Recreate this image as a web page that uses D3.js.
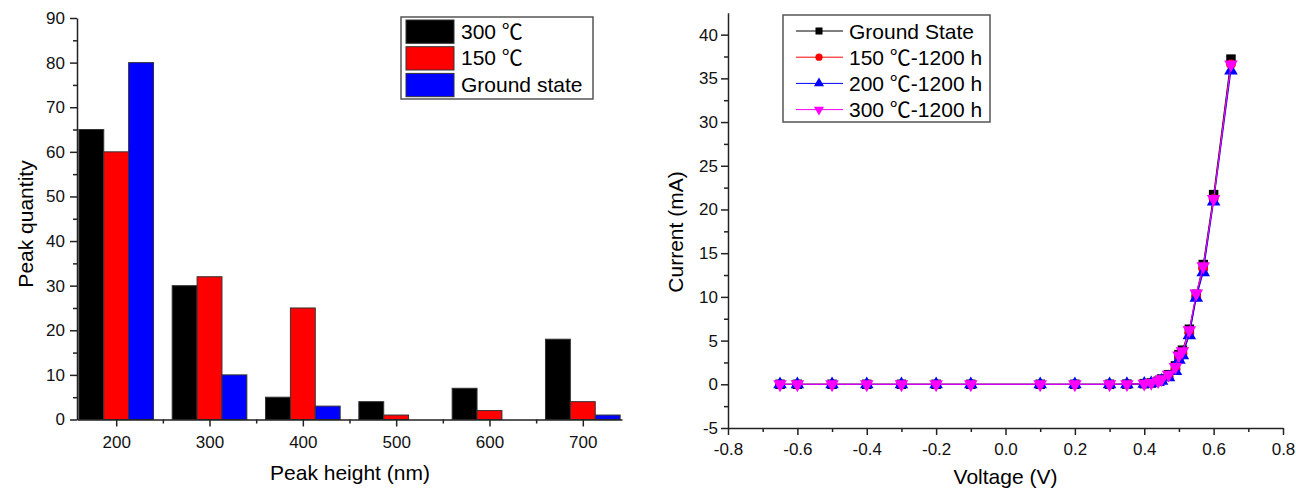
<!DOCTYPE html>
<html>
<head>
<meta charset="utf-8">
<script src="https://cdn.jsdelivr.net/npm/d3@7"></script>
<style>
  body { margin: 0; background: #fff; }
  text { font-family: "Liberation Sans", Arial, "Noto Sans CJK SC", sans-serif; }
</style>
</head>
<body>
<div class="chart"></div>
<script>
// Bar chart data (left panel)
const peakHeights = [200, 300, 400, 500, 600, 700];
const barSeries = ["300 ℃", "150 ℃", "Ground state"];
const barColors = ["#000000", "#ff0000", "#0000ff"];
const count300 = [65, 30, 5, 4, 7, 18];
const count150 = [60, 32, 25, 1, 2, 4];
const countGround = [80, 10, 3, 0, 0, 1];

// I-V data (right panel)
const voltage = [-0.65, -0.6, -0.5, -0.4, -0.3, -0.2, -0.1, 0.1, 0.2, 0.3, 0.35, 0.4, 0.42, 0.44, 0.45, 0.47, 0.49, 0.5, 0.51, 0.53, 0.55, 0.57, 0.6, 0.65];
const currentGround = [0, 0, 0, 0, 0, 0, 0, 0, 0, 0, 0.02, 0.07, 0.15, 0.35, 0.6, 1.1, 2.1, 3.4, 3.9, 6.3, 10.3, 13.7, 21.7, 37.2];
const current150 = [0, 0, 0, 0, 0, 0, 0, 0, 0, 0, 0.01, 0.05, 0.12, 0.3, 0.5, 0.9, 1.7, 2.9, 3.5, 5.8, 10.0, 13.2, 21.2, 36.6];
const current200 = [0, 0, 0, 0, 0, 0, 0, 0, 0, 0, 0.01, 0.05, 0.1, 0.25, 0.4, 0.8, 1.5, 2.8, 3.3, 5.6, 9.9, 12.8, 20.9, 35.9];
const current300 = [0, 0, 0, 0, 0, 0, 0, 0, 0, 0, 0.02, 0.07, 0.15, 0.35, 0.6, 1.1, 2.0, 3.3, 3.8, 6.2, 10.4, 13.5, 21.2, 36.6];
const lineSeries = ["Ground State", "150 ℃-1200 h", "200 ℃-1200 h", "300 ℃-1200 h"];
const lineColors = ["#000000", "#ff0000", "#0000ff", "#ff00ff"];

const svgWidth = 1296;
const svgHeight = 493;
const axisColor = "#222";

let svg = d3.select(".chart")
    .append("svg")
    .attr("width", svgWidth)
    .attr("height", svgHeight);

// plain hyphen for negatives, as in the original
const fmtV = (d) => d3.format(".1f")(d).replace("−", "-");

function styleAxis(g) {
    g.selectAll("path, line").attr("stroke", axisColor).attr("stroke-width", 1.5);
    g.selectAll("text")
        .attr("font-family", "'Liberation Sans', Arial, sans-serif")
        .attr("font-size", "17px")
        .attr("fill", "#111");
}

// ---------- Left panel: bar chart ----------
const xBar = d3.scaleLinear().domain([158, 742]).range([77, 622]);
const yBar = d3.scaleLinear().domain([0, 90]).range([419.5, 18]);
const barW = 80 / 3;
const barData = [count300, count150, countGround];

const barGroup = svg.append("g");

barData.forEach(function (vals, si) {
    barGroup.selectAll(".bar" + si)
        .data(peakHeights)
        .enter()
        .append("rect")
        .attr("x", (d) => xBar(d + (si - 1.5) * barW))
        .attr("width", xBar(barW) - xBar(0))
        .attr("y", (d, i) => yBar(vals[i]))
        .attr("height", (d, i) => yBar(0) - yBar(vals[i]))
        .attr("fill", barColors[si])
        .attr("stroke", "#333")
        .attr("stroke-width", 1);
});

// minor ticks
svg.append("g")
    .attr("transform", `translate(0, ${yBar(0)})`)
    .call(d3.axisBottom(xBar).tickValues([250, 350, 450, 550, 650]).tickSize(4).tickFormat(""))
    .call(g => g.select(".domain").remove())
    .call(styleAxis);
svg.append("g")
    .attr("transform", `translate(${xBar(158)}, 0)`)
    .call(d3.axisLeft(yBar).tickValues(d3.range(5, 90, 10)).tickSize(4).tickFormat(""))
    .call(g => g.select(".domain").remove())
    .call(styleAxis);

svg.append("g")
    .attr("transform", `translate(0, ${yBar(0)})`)
    .call(d3.axisBottom(xBar).tickValues(peakHeights).tickSize(7).tickSizeOuter(0).tickPadding(9))
    .call(styleAxis);
svg.append("g")
    .attr("transform", `translate(${xBar(158)}, 0)`)
    .call(d3.axisLeft(yBar).tickValues(d3.range(0, 91, 10)).tickSize(7).tickSizeOuter(0).tickPadding(5))
    .call(styleAxis);

svg.append("text")
    .attr("x", 350)
    .attr("y", 480)
    .attr("text-anchor", "middle")
    .attr("font-size", "21px")
    .text("Peak height (nm)");

svg.append("text")
    .attr("transform", "rotate(-90)")
    .attr("x", -224)
    .attr("y", 33)
    .attr("text-anchor", "middle")
    .attr("font-size", "21px")
    .text("Peak quantity");

// legend
const barLegend = svg.append("g").attr("transform", "translate(401, 17)");
barLegend.append("rect")
    .attr("width", 192).attr("height", 82)
    .attr("fill", "#fff").attr("stroke", "#555").attr("stroke-width", 1.5);
barSeries.forEach(function (name, i) {
    barLegend.append("rect")
        .attr("x", 5).attr("y", 3 + i * 26.7)
        .attr("width", 48).attr("height", 23.3)
        .attr("fill", barColors[i]).attr("stroke", "#333");
    barLegend.append("text")
        .attr("x", 60).attr("y", 21.5 + i * 26.5)
        .attr("font-size", "21px")
        .text(name);
});

// ---------- Right panel: I-V curves ----------
const xV = d3.scaleLinear().domain([-0.8, 0.8]).range([728, 1283]);
const yI = d3.scaleLinear().domain([-5, 42.5]).range([428, 12.8]);
const currents = [currentGround, current150, current200, current300];
const symbols = [
    { type: d3.symbolSquare, size: 90, rot: 0 },
    { type: d3.symbolCircle, size: 75, rot: 0 },
    { type: d3.symbolTriangle, size: 80, rot: 0 },
    { type: d3.symbolTriangle, size: 80, rot: 180 }
];

svg.append("g")
    .attr("transform", `translate(0, ${yI(-5)})`)
    .call(d3.axisBottom(xV).tickValues(d3.range(-0.7, 0.8, 0.2)).tickSize(4).tickFormat(""))
    .call(g => g.select(".domain").remove())
    .call(styleAxis);
svg.append("g")
    .attr("transform", `translate(${xV(-0.8)}, 0)`)
    .call(d3.axisLeft(yI).tickValues(d3.range(-2.5, 42.5, 5)).tickSize(4).tickFormat(""))
    .call(g => g.select(".domain").remove())
    .call(styleAxis);

svg.append("g")
    .attr("transform", `translate(0, ${yI(-5)})`)
    .call(d3.axisBottom(xV).tickValues(d3.range(-0.8, 0.81, 0.2)).tickFormat(fmtV).tickSize(7).tickSizeOuter(0).tickPadding(8))
    .call(styleAxis);
svg.append("g")
    .attr("transform", `translate(${xV(-0.8)}, 0)`)
    .call(d3.axisLeft(yI).tickValues(d3.range(-5, 41, 5)).tickFormat(d => String(d)).tickSize(7).tickSizeOuter(0).tickPadding(3))
    .call(styleAxis);

const line = d3.line()
    .x((d) => xV(d[0]))
    .y((d) => yI(d[1]));

currents.forEach(function (vals, si) {
    const pts = voltage.map((v, i) => [v, vals[i]]);
    svg.append("path")
        .datum(pts)
        .attr("d", line)
        .attr("fill", "none")
        .attr("stroke", lineColors[si])
        .attr("stroke-width", 1);
    const sym = symbols[si];
    svg.selectAll(".pt" + si)
        .data(pts)
        .enter()
        .append("path")
        .attr("d", d3.symbol().type(sym.type).size(sym.size))
        .attr("transform", d => `translate(${xV(d[0])}, ${yI(d[1])}) rotate(${sym.rot})`)
        .attr("fill", lineColors[si]);
});

svg.append("text")
    .attr("x", 1005.5)
    .attr("y", 484)
    .attr("text-anchor", "middle")
    .attr("font-size", "21px")
    .text("Voltage (V)");

svg.append("text")
    .attr("transform", "rotate(-90)")
    .attr("x", -232)
    .attr("y", 683)
    .attr("text-anchor", "middle")
    .attr("font-size", "21px")
    .text("Current (mA)");

// legend
const lineLegend = svg.append("g").attr("transform", "translate(783, 15)");
lineLegend.append("rect")
    .attr("width", 207).attr("height", 107)
    .attr("fill", "#fff").attr("stroke", "#555").attr("stroke-width", 1.5);
lineSeries.forEach(function (name, i) {
    const cy = 16 + i * 26.2;
    lineLegend.append("line")
        .attr("x1", 13).attr("x2", 60)
        .attr("y1", cy).attr("y2", cy)
        .attr("stroke", lineColors[i]).attr("stroke-width", 1);
    const sym = symbols[i];
    lineLegend.append("path")
        .attr("d", d3.symbol().type(sym.type).size(sym.size * 0.55))
        .attr("transform", `translate(36, ${cy}) rotate(${sym.rot})`)
        .attr("fill", lineColors[i]);
    lineLegend.append("text")
        .attr("x", 66).attr("y", cy + 7.5)
        .attr("font-size", "21px")
        .text(name);
});
</script>
</body>
</html>
